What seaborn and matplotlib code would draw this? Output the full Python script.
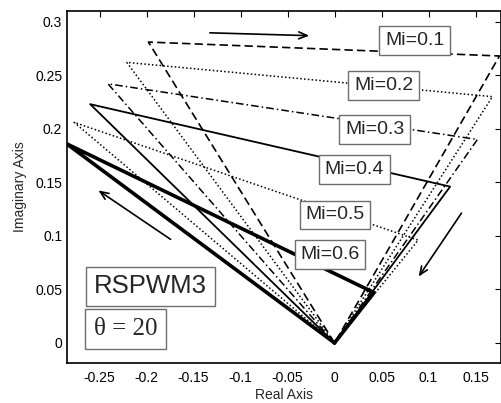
import numpy as np
import matplotlib
matplotlib.use("Agg")
import matplotlib.pyplot as plt
import pandas as pd
import seaborn as sns

# Vertices of each trajectory (origin -> left vertex -> right vertex -> origin)
mi_values = [0.1, 0.2, 0.3, 0.4, 0.5, 0.6]
left_x = [-0.198, -0.221, -0.241, -0.260, -0.277, -0.285]
left_y = [0.281, 0.262, 0.242, 0.223, 0.206, 0.186]
right_x = [0.1755, 0.168, 0.152, 0.123, 0.089, 0.042]
right_y = [0.268, 0.230, 0.190, 0.146, 0.096, 0.047]

# Label box centres for each Mi
label_x = [0.0851, 0.0521, 0.0426, 0.0213, 0.0005, -0.0048]
label_y = [0.2827, 0.2407, 0.1991, 0.1617, 0.1196, 0.0827]

# Tick labels
xtick_vals = [-0.25, -0.2, -0.15, -0.1, -0.05, 0, 0.05, 0.1, 0.15]
xtick_labels = ["-0.25", "-0.2", "-0.15", "-0.1", "-0.05", "0", "0.05", "0.1", "0.15"]
ytick_vals = [0, 0.05, 0.1, 0.15, 0.2, 0.25, 0.3]
ytick_labels = ["0", "0.05", "0.1", "0.15", "0.2", "0.25", "0.3"]

# Direction arrows (tail, head)
arrows = [
    ((-0.1356, 0.2897), (-0.024, 0.2869)),
    ((-0.172, 0.0953), (-0.2537, 0.1439)),
    ((0.1367, 0.1234), (0.0878, 0.0598)),
]

sns.set_style("white")
plt.rcParams["font.family"] = ["Liberation Sans", "DejaVu Sans"]

fig = plt.figure(figsize=(5.02, 4.03), dpi=100)
ax = fig.add_axes([0.1335, 0.0993, 0.998 - 0.1335, 0.9727 - 0.0993])

styles = [
    dict(linestyle=(0, (5, 2.5)), linewidth=1.2),
    dict(linestyle=(0, (1, 1.5)), linewidth=1.1),
    dict(linestyle=(0, (5, 2, 1, 2)), linewidth=1.1),
    dict(linestyle="-", linewidth=1.3),
    dict(linestyle=(0, (1, 1.5)), linewidth=1.1),
    dict(linestyle="-", linewidth=2.6),
]

for i, mi in enumerate(mi_values):
    path = pd.DataFrame({
        "x": [0, left_x[i], right_x[i], 0],
        "y": [0, left_y[i], right_y[i], 0],
    })
    sns.lineplot(data=path, x="x", y="y", sort=False, estimator=None,
                 color="black", ax=ax, **styles[i])
    ax.text(label_x[i], label_y[i], f"Mi={mi}", ha="center", va="center",
            fontsize=14, zorder=5,
            bbox=dict(boxstyle="square,pad=0.3", fc="white", ec="#6e6e6e", lw=1))

for tail, head in arrows:
    ax.annotate("", xy=head, xytext=tail,
                arrowprops=dict(arrowstyle="->,head_length=0.6,head_width=0.25",
                                color="black", lw=1.2))

ax.text(-0.2559, 0.0528, "RSPWM3", ha="left", va="center", fontsize=18.5,
        zorder=5, bbox=dict(boxstyle="square,pad=0.3", fc="white", ec="#6e6e6e", lw=1))
ax.text(-0.2559, 0.0131, "θ = 20", ha="left", va="center", fontsize=18,
        family=["Liberation Serif", "DejaVu Serif"], zorder=5,
        bbox=dict(boxstyle="square,pad=0.35", fc="white", ec="#6e6e6e", lw=1))

ax.set_xlim(-0.2846, 0.1771)
ax.set_ylim(-0.0187, 0.310)
ax.set_xticks(xtick_vals)
ax.set_xticklabels(xtick_labels)
ax.set_yticks(ytick_vals)
ax.set_yticklabels(ytick_labels)
ax.tick_params(direction="in", length=4, width=0.8, top=True, right=True,
               labelsize=10, colors="black")
ax.tick_params(axis="x", pad=6)
ax.set_xlabel("Real Axis", fontsize=10, labelpad=2)
ax.set_ylabel("Imaginary Axis", fontsize=10, labelpad=6)
for sp in ax.spines.values():
    sp.set_color("black")
    sp.set_linewidth(1.2)

fig.savefig("out.png", dpi=100)
